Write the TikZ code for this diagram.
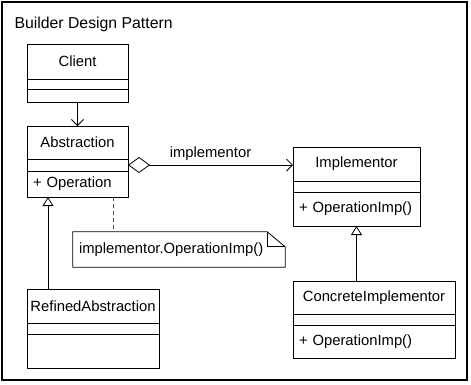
\documentclass[tikz,border=0pt]{standalone}
\usepackage{fontspec}
\setmainfont{Liberation Sans}
\usetikzlibrary{positioning,arrows.meta}

\begin{document}
\begin{tikzpicture}[x=1pt,y=-1pt,
    every node/.style={font=\fontsize{14.8}{17}\selectfont},
    classname/.style={draw,line width=0.8pt,outer sep=0pt,inner sep=0pt},
    classpart/.style={draw,line width=0.8pt,outer sep=0pt,inner sep=0pt},
    classops/.style={draw,line width=0.8pt,outer sep=0pt,inner xsep=6pt,inner ysep=0pt,
        text width=#1,align=left},
    assoc/.style={line width=0.8pt,-{Straight Barb[length=6pt,width=12pt]}},
    inherit/.style={line width=0.8pt,-{Triangle[open,length=9pt,width=11pt]}},
    aggr/.style={line width=0.8pt,{Diamond[open,length=22pt,width=16pt]}-{Straight Barb[length=6pt,width=12pt]}}]

\useasboundingbox (0,0) rectangle (471,384);
\draw[line width=1.6pt] (2,2) rectangle (467,380);
\node[anchor=west,font=\fontsize{15.8}{18}\selectfont] (title) at (11,24) {Builder Design Pattern};

% Client
\node[classname,minimum width=101pt,minimum height=35pt] (client) at (77.5,61.5) {Client};
\node[classpart,minimum width=101pt,minimum height=10pt,below=0pt of client] (clientattr) {};
\node[classpart,minimum width=101pt,minimum height=13pt,below=0pt of clientattr] (clientops) {};

% Abstraction
\node[classname,minimum width=101pt,minimum height=33pt] (abs) at (77.5,142.5) {Abstraction};
\node[classpart,minimum width=101pt,minimum height=12pt,below=0pt of abs] (absattr) {};
\node[classops=89pt,minimum height=26pt,below=0pt of absattr] (absops) {+ Operation};

% RefinedAbstraction
\node[classname,minimum width=132pt,minimum height=34pt] (refined) at (93,306) {RefinedAbstraction};
\node[classpart,minimum width=132pt,minimum height=11pt,below=0pt of refined] (refinedattr) {};
\node[classpart,minimum width=132pt,minimum height=34pt,below=0pt of refinedattr] (refinedops) {};

% Implementor
\node[classname,minimum width=127pt,minimum height=34pt] (imp) at (356.5,164) {Implementor};
\node[classpart,minimum width=127pt,minimum height=11pt,below=0pt of imp] (impattr) {};
\node[classops=115pt,minimum height=34pt,below=0pt of impattr] (impops) {+ OperationImp()};

% ConcreteImplementor
\node[classname,minimum width=162pt,minimum height=33pt] (concrete) at (374,297.5) {ConcreteImplementor};
\node[classpart,minimum width=162pt,minimum height=11pt,below=0pt of concrete] (concreteattr) {};
\node[classops=150pt,minimum height=33pt,below=0pt of concreteattr] (concreteops) {+ OperationImp()};

% note attached to Operation
\node[inner xsep=6pt,inner ysep=0pt,text width=200pt,minimum height=35pt,align=left] (note) at (179,249.5) {implementor.OperationImp()};
\draw[line width=0.8pt] (note.north west) -- ([xshift=-18pt]note.north east)
    -- ([yshift=-15pt]note.north east) -- (note.south east) -- (note.south west) -- cycle;
\draw[line width=0.8pt] ([xshift=-18pt]note.north east) |- ([yshift=-15pt]note.north east);
\draw[line width=0.8pt,dashed,dash pattern=on 4pt off 3pt,black!70]
    ([xshift=-15pt]absops.south east) -- ([xshift=-15pt]absops.south east |- note.north);

% relations
\draw[assoc] (clientops.south) -- (abs.north);
\draw[aggr] (absattr.east) -- (absattr.east -| imp.west)
    node[midway,above=1pt] (implabel) {implementor};
\draw[inherit] ([xshift=21pt]refined.north west) -- ([xshift=21pt]absops.south west);
\draw[inherit] (impops.south |- concrete.north) -- (impops.south);

\end{tikzpicture}
\end{document}
